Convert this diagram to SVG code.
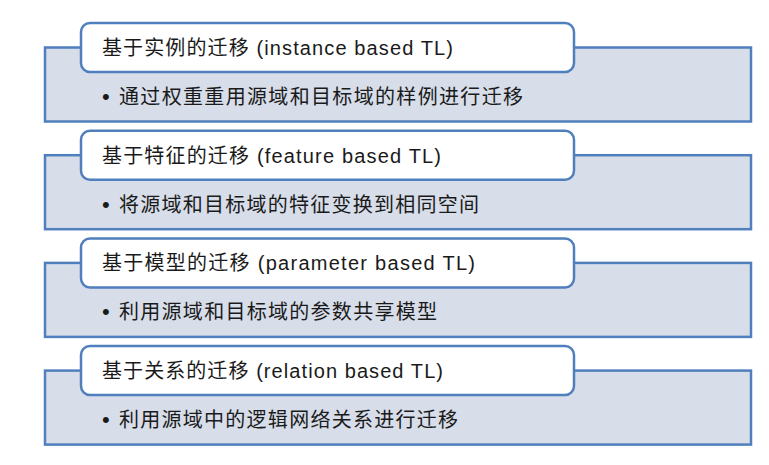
<svg xmlns="http://www.w3.org/2000/svg" width="769" height="465" viewBox="0 0 769 465">
<style>
.back{fill:#d7dde9;stroke:#4f7fbc;stroke-width:2.5}
.head{fill:#ffffff;stroke:#4f7fbc;stroke-width:2.5}
.t{font-family:"Liberation Sans","Noto Sans CJK SC",sans-serif;font-size:20px;fill:#1a1a1a}
.d{font-family:"Liberation Sans",sans-serif;font-size:22px;fill:#1a1a1a}
.b{font-family:"Noto Sans CJK SC","Liberation Sans",sans-serif;font-size:20px;fill:#1a1a1a}
</style>
<rect width="769" height="465" fill="#ffffff"/>
<g id="block1">
<rect class="back" x="45" y="47.5" width="706" height="74"/>
<rect class="head" x="81" y="23" width="493" height="49" rx="9"/>
<text class="t" x="102" y="55" textLength="351" lengthAdjust="spacing">基于实例的迁移 (instance based TL)</text>
<text class="d" x="102" y="104">•</text>
<text class="b" x="119" y="104" textLength="404" lengthAdjust="spacing">通过权重重用源域和目标域的样例进行迁移</text>
</g>
<g id="block2">
<rect class="back" x="45" y="155.2" width="706" height="74"/>
<rect class="head" x="81" y="130.7" width="493" height="49" rx="9"/>
<text class="t" x="102" y="162.7" textLength="339" lengthAdjust="spacing">基于特征的迁移 (feature based TL)</text>
<text class="d" x="102" y="211.7">•</text>
<text class="b" x="119" y="211.7" textLength="360" lengthAdjust="spacing">将源域和目标域的特征变换到相同空间</text>
</g>
<g id="block3">
<rect class="back" x="45" y="262.9" width="706" height="74"/>
<rect class="head" x="81" y="238.4" width="493" height="49" rx="9"/>
<text class="t" x="102" y="270.4" textLength="373" lengthAdjust="spacing">基于模型的迁移 (parameter based TL)</text>
<text class="d" x="102" y="319.4">•</text>
<text class="b" x="119" y="319.4" textLength="318" lengthAdjust="spacing">利用源域和目标域的参数共享模型</text>
</g>
<g id="block4">
<rect class="back" x="45" y="370.6" width="706" height="74"/>
<rect class="head" x="81" y="346.1" width="493" height="49" rx="9"/>
<text class="t" x="102" y="378.1" textLength="341" lengthAdjust="spacing">基于关系的迁移 (relation based TL)</text>
<text class="d" x="102" y="427.1">•</text>
<text class="b" x="119" y="427.1" textLength="339" lengthAdjust="spacing">利用源域中的逻辑网络关系进行迁移</text>
</g>
<g id="connectors"></g>
</svg>
